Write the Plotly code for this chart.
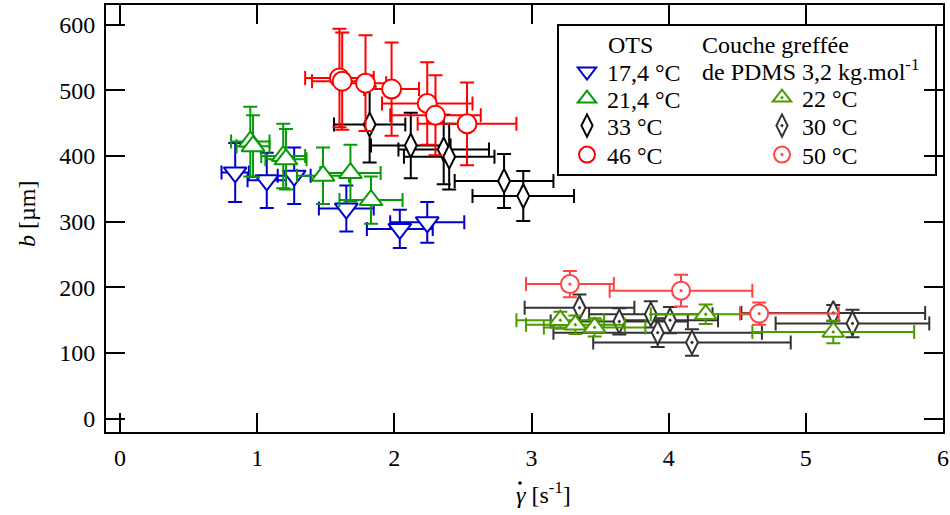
import plotly.graph_objects as go

# ---------------- data ----------------
# OTS 17,4 °C
ots17_x = [0.84, 1.07, 1.27, 1.65, 2.04, 2.24]
ots17_y = [375, 363, 370, 320, 289, 299]
ots17_ex = [0.10, 0.14, 0.12, 0.20, 0.24, 0.27]
ots17_ey = [45, 42, 43, 35, 29, 31]

# OTS 21,4 °C
ots21_x = [0.95, 0.97, 1.19, 1.21, 1.48, 1.68, 1.83]
ots21_y = [422, 415, 400, 395, 370, 374, 333]
ots21_ex = [0.14, 0.12, 0.16, 0.15, 0.19, 0.22, 0.23]
ots21_ey = [53, 47, 49, 46, 43, 43, 36]

# OTS 33 °C
ots33_x = [1.82, 2.12, 2.36, 2.40, 2.80, 2.94]
ots33_y = [448, 416, 410, 399, 362, 339]
ots33_ex = [0.26, 0.29, 0.33, 0.33, 0.36, 0.37]
ots33_ey = [58, 50, 53, 50, 41, 38]

# OTS 46 °C
ots46_x = [1.60, 1.62, 1.79, 1.98, 2.24, 2.30, 2.53]
ots46_y = [519, 514, 511, 502, 480, 462, 449]
ots46_ex = [0.25, 0.22, 0.15, 0.20, 0.33, 0.33, 0.36]
ots46_ey = [75, 74, 73, 71, 63, 61, 63]

# PDMS grafted layer 22 °C
pd22_x = [3.21, 3.32, 3.46, 4.27, 5.20]
pd22_y = [150, 143, 139, 159, 132]
pd22_ex = [0.32, 0.36, 0.37, 0.40, 0.59]
pd22_ey = [13, 14, 14, 15, 17]

# PDMS grafted layer 30 °C
pd30_x = [3.35, 3.64, 3.87, 4.01, 3.92, 4.17, 5.20, 5.34]
pd30_y = [169, 148, 159, 150, 131, 116, 161, 145]
pd30_ex = [0.40, 0.50, 0.45, 0.35, 0.76, 0.72, 0.67, 0.56]
pd30_ey = [20, 20, 20, 20, 22, 20, 12, 21]

# PDMS grafted layer 50 °C
pd50_x = [3.28, 4.09, 4.66]
pd50_y = [205, 195, 160]
pd50_ex_plus = [0.32, 0.52, 0.58]
pd50_ex_minus = [0.32, 0.52, 0.14]
pd50_ey = [20, 24, 17]

x_ticks = [0, 1, 2, 3, 4, 5, 6]
y_ticks = [0, 100, 200, 300, 400, 500, 600]

# ---------------- layout helpers ----------------
W, H = 950, 515
ML, MR, MT, MB = 106, 7, 5, 83
PW, PH = W - ML - MR, H - MT - MB


def px_x(px):
    return (px - ML) / PW


def px_y(py):
    return (H - MB - py) / PH


FONT = "Liberation Serif"
FS = 24

fig = go.Figure()


def add(x, y, ex, ey, name, color, symbol, size, legend, exm=None):
    err_x = dict(type="data", array=ex, color=color, thickness=2, width=7)
    if exm is not None:
        err_x["symmetric"] = False
        err_x["arrayminus"] = exm
    fig.add_trace(go.Scatter(
        x=x, y=y, mode="markers", name=name, legend=legend,
        marker=dict(symbol=symbol, size=size, color="white",
                    line=dict(color=color, width=2)),
        error_x=err_x,
        error_y=dict(type="data", array=ey, color=color, thickness=2, width=7),
    ))


add(pd30_x, pd30_y, pd30_ex, pd30_ey, "30 °C", "#333333", "diamond-tall-dot", 17, "legend6")
add(pd22_x, pd22_y, pd22_ex, pd22_ey, "22 °C", "#4a9a00", "triangle-up-dot", 19, "legend5")
add(pd50_x, pd50_y, pd50_ex_plus, pd50_ey, "50 °C", "#ff4444", "circle-dot", 18, "legend7",
    exm=pd50_ex_minus)
add(ots33_x, ots33_y, ots33_ex, ots33_ey, "33 °C", "#000000", "diamond-tall", 17, "legend3")
add(ots17_x, ots17_y, ots17_ex, ots17_ey, "17,4 °C", "#0000cc", "triangle-down", 20, "legend")
add(ots21_x, ots21_y, ots21_ex, ots21_ey, "21,4 °C", "#079b07", "triangle-up", 20, "legend2")
add(ots46_x, ots46_y, ots46_ex, ots46_ey, "46 °C", "#ff0000", "circle", 19, "legend4")

axis_common = dict(
    showgrid=False, zeroline=False, showline=True, linecolor="black", linewidth=2,
    mirror="ticks", ticks="inside", ticklen=19, tickwidth=2, tickcolor="black",
    tickfont=dict(family=FONT, size=FS, color="black"), automargin=False,
)

legend_common = dict(
    bgcolor="rgba(0,0,0,0)", borderwidth=0, xanchor="left", yanchor="middle",
    font=dict(family=FONT, size=FS, color="black"), itemclick=False,
)

left_leg_x = px_x(567)
right_leg_x = px_x(762)

layout_legends = {
    "legend": dict(x=left_leg_x, y=px_y(72), **legend_common),
    "legend2": dict(x=left_leg_x, y=px_y(99), **legend_common),
    "legend3": dict(x=left_leg_x, y=px_y(126), **legend_common),
    "legend4": dict(x=left_leg_x, y=px_y(155), **legend_common),
    "legend5": dict(x=right_leg_x, y=px_y(98), **legend_common),
    "legend6": dict(x=right_leg_x, y=px_y(126), **legend_common),
    "legend7": dict(x=right_leg_x, y=px_y(155), **legend_common),
}

title_font = dict(family=FONT, size=FS, color="black")

fig.update_layout(
    width=W, height=H,
    margin=dict(l=ML, r=MR, t=MT, b=MB, autoexpand=False),
    paper_bgcolor="white", plot_bgcolor="white",
    font=dict(family=FONT, size=FS, color="black"),
    showlegend=True,
    xaxis=dict(range=[-0.102, 6.0], tickvals=x_ticks, ticklabelstandoff=3, **axis_common),
    yaxis=dict(range=[-20.3, 630.0], tickvals=y_ticks, ticklabelstandoff=4, **axis_common),
    shapes=[
        dict(type="rect", xref="paper", yref="paper",
             x0=px_x(558), x1=px_x(936), y0=px_y(175), y1=px_y(25),
             line=dict(color="black", width=2), fillcolor="white", layer="below"),
        # dot accent of the gamma in the x-axis title
        dict(type="circle", xref="paper", yref="paper",
             x0=px_x(518.5), x1=px_x(521.5), y0=px_y(484.5), y1=px_y(481.5),
             line=dict(color="black", width=0.5), fillcolor="black"),
    ],
    annotations=[
        dict(text="OTS", xref="paper", yref="paper", x=px_x(630), y=px_y(45),
             xanchor="center", yanchor="middle", showarrow=False, font=title_font),
        dict(text="Couche greffée", xref="paper", yref="paper",
             x=px_x(700), y=px_y(45), xanchor="left", yanchor="middle",
             showarrow=False, font=title_font),
        dict(text="de PDMS 3,2 kg.mol<sup>-1</sup>", xref="paper", yref="paper",
             x=px_x(700), y=px_y(70), xanchor="left", yanchor="middle",
             showarrow=False, font=title_font),
        dict(text="<i>b</i> [µm]", xref="paper", yref="paper", x=px_x(27), y=px_y(214),
             xanchor="center", yanchor="middle", textangle=-90, showarrow=False,
             font=title_font),
        dict(text="<i>\u03b3</i> [s<sup>-1</sup>]", xref="paper", yref="paper",
             x=px_x(543), y=px_y(493), xanchor="center", yanchor="middle", showarrow=False,
             font=title_font),
    ],
    **layout_legends,
)

fig.write_html("out.html",
               config={"displayModeBar": False},
               post_script="document.body.style.margin='0';document.body.style.padding='0';")
